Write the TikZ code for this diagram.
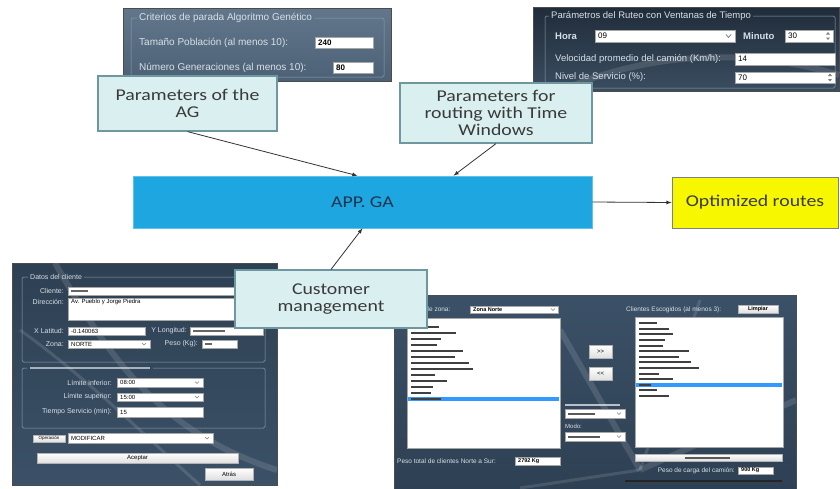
\documentclass[tikz,border=0pt]{standalone}
\usepackage{fontspec}
\setmainfont{Carlito}
\newfontfamily\boxfont[FakeStretch=1.2]{Carlito}
\newfontfamily\uifont{Liberation Sans}
\definecolor{calloutfill}{HTML}{DAEFEF}
\definecolor{calloutline}{HTML}{6E97A0}
\definecolor{labeltext}{HTML}{3A3A3A}
\definecolor{appblue}{HTML}{1DA6DF}
\definecolor{apptext}{HTML}{1E3550}
\definecolor{outyellow}{HTML}{F7F700}
\definecolor{arrowgray}{HTML}{333333}
\definecolor{ptop}{HTML}{62778B}
\definecolor{pbot}{HTML}{4C6176}
\definecolor{qtop}{HTML}{202C3A}
\definecolor{qbot}{HTML}{3A4D60}
\definecolor{rtop}{HTML}{2E4053}
\definecolor{rbot}{HTML}{3B5167}
\definecolor{uitext}{HTML}{D8E0E8}
\definecolor{selblue}{HTML}{3399FF}

\begin{document}
\begin{tikzpicture}[x=1pt,y=-1pt]
  \tikzstyle{callout}=[draw=calloutline,fill=calloutfill,line width=1.2pt,text=labeltext,font=\boxfont\fontsize{16.5}{17}\selectfont,align=center,inner sep=0pt]
  \tikzstyle{appbox}=[fill=appblue,draw=appblue!70!white,line width=0.6pt,text=apptext,font=\boxfont\fontsize{16.5}{18}\selectfont,minimum width=459pt,minimum height=52pt]
  \tikzstyle{outbox}=[fill=outyellow,draw=gray,line width=0.8pt,text=labeltext,font=\boxfont\fontsize{16.5}{18}\selectfont,minimum width=166pt,minimum height=51pt]
  \tikzstyle{link}=[->,>=latex,draw=arrowgray,line width=0.8pt]
  \tikzstyle{winpanel}=[draw=black!70,line width=1pt]
  \tikzstyle{grp}=[draw=uitext!55!rbot,line width=0.5pt,rounded corners=1.5pt]
  \tikzstyle{field}=[draw=gray!70,fill=white,line width=0.4pt]
  \tikzstyle{btn}=[draw=gray!60,top color=white,bottom color=gray!25,line width=0.4pt]
  \tikzstyle{ui}=[inner sep=0pt,text=uitext,font=\uifont\fontsize{7}{8}\selectfont]
  \tikzstyle{uibig}=[ui,font=\uifont\fontsize{10}{11}\selectfont]
  \tikzstyle{uival}=[inner sep=0pt,text=black,font=\uifont\fontsize{6}{7}\selectfont]
  \tikzstyle{streak}=[white,opacity=0.12,line width=6pt]

  \useasboundingbox (0,0) rectangle (840,488);
  \fill[white] (0,0) rectangle (840,488);

  % genetic algorithm settings
  \draw[winpanel,top color=ptop,bottom color=pbot] (123,8) rectangle (391,81);
  \node[uibig,anchor=west] (T_crit) at (139,18) {Criterios de parada Algoritmo Genético};
  \draw[grp] ([xshift=2pt]T_crit.east) -| (384,77) -| (131,18) -- ([xshift=-2pt]T_crit.west);
  \node[uibig,anchor=west] at (139,43) {Tamaño Población (al menos 10):};
  \draw[field] (315,37) rectangle (373,48);
  \node[uival,anchor=west,font=\uifont\bfseries\fontsize{8}{9}\selectfont] at (318,42.5) {240};
  \node[uibig,anchor=west] at (139,68) {Número Generaciones (al menos 10):};
  \draw[field] (333,62) rectangle (373,73);
  \node[uival,anchor=west,font=\uifont\bfseries\fontsize{8}{9}\selectfont] at (336,67.5) {80};

  % routing settings
  \draw[winpanel,top color=qtop,bottom color=qbot] (533,7) rectangle (839,91);
  \draw[streak] (560,91) .. controls (640,55) and (740,45) .. (839,75);
  \node[uibig,anchor=west,font=\uifont\fontsize{9.5}{11}\selectfont] (T_ruteo) at (551,16) {Parámetros del Ruteo con Ventanas de Tiempo};
  \draw[grp] ([xshift=2pt]T_ruteo.east) -| (835,88) -| (545,16) -- ([xshift=-2pt]T_ruteo.west);
  \node[uibig,anchor=west,font=\uifont\bfseries\fontsize{9.5}{11}\selectfont] at (555,36) {Hora};
  \draw[field] (595,30) rectangle (735,42);
  \node[uival,anchor=west,font=\uifont\fontsize{8}{9}\selectfont] at (598,36) {09};
  \draw[gray,line width=0.8pt] (726,34.5) -- (728.5,37.5) -- (731,34.5);
  \node[uibig,anchor=west,font=\uifont\bfseries\fontsize{9.5}{11}\selectfont] at (743,36) {Minuto};
  \draw[field] (785,30) rectangle (833,42);
  \node[uival,anchor=west,font=\uifont\fontsize{8}{9}\selectfont] at (788,36) {30};
  \fill[gray] (826,34.5) -- (830,34.5) -- (828,32) -- cycle (826,37.5) -- (830,37.5) -- (828,40) -- cycle;
  \node[uibig,anchor=west,font=\uifont\fontsize{9.5}{11}\selectfont] at (555,59) {Velocidad promedio del camión (Km/h):};
  \draw[field] (735,53) rectangle (835,65);
  \node[uival,anchor=west,font=\uifont\fontsize{8}{9}\selectfont] at (738,59) {14};
  \node[uibig,anchor=west,font=\uifont\fontsize{9.5}{11}\selectfont] at (555,77.5) {Nivel de Servicio (\%):};
  \draw[field] (735,72) rectangle (835,83);
  \node[uival,anchor=west,font=\uifont\fontsize{8}{9}\selectfont] at (738,77.5) {70};
  \fill[gray] (828,76) -- (832,76) -- (830,73.5) -- cycle (828,79) -- (832,79) -- (830,81.5) -- cycle;

  % customer form
  \draw[winpanel,top color=rtop,bottom color=rbot] (12,263) rectangle (277,485);
  \begin{scope}
    \clip (12,263) rectangle (277,485);
    \draw[streak] (55,263) .. controls (100,340) and (150,430) .. (277,470);
    \draw[streak,line width=3pt] (20,330) .. controls (90,380) and (160,450) .. (200,485);
  \end{scope}
  \node[ui,anchor=west] (T_datos) at (30,277) {Datos del cliente};
  \draw[grp] ([xshift=2pt]T_datos.east) -| (265,362) -| (22,277) -- ([xshift=-2pt]T_datos.west);
  \node[ui,anchor=east] at (64,291) {Cliente:};
  \draw[field] (68,287) rectangle (258,295);
  \fill[black!60] (71,290) rectangle (88,292.2);
  \node[ui,anchor=east] at (64,302) {Dirección:};
  \draw[field] (68,298) rectangle (258,320);
  \node[uival,anchor=west] at (71,302) {Av. Pueblo y Jorge Piedra};
  \node[ui,anchor=east] at (64,331) {X Latitud:};
  \draw[field] (68,327) rectangle (145,335);
  \node[uival,anchor=west] at (71,331) {-0.140063};
  \node[ui,anchor=east] at (187,331) {Y Longitud:};
  \draw[field] (190,327) rectangle (263,335);
  \fill[black!60] (193,330) rectangle (225,332.2);
  \node[ui,anchor=east] at (64,344) {Zona:};
  \draw[field] (68,340) rectangle (150,348);
  \node[uival,anchor=west] at (71,344) {NORTE};
  \draw[gray] (142,343) -- (144,345) -- (146,343);
  \node[ui,anchor=east] at (198,344) {Peso (Kg):};
  \draw[field] (202,340) rectangle (237,348);
  \fill[black!60] (205,343) rectangle (212,345.2);
  \fill[uitext,opacity=0.7] (30,367) rectangle (150,369.4);
  \draw[grp] (153,368) -| (265,428) -| (22,368) -- (27,368);
  \node[ui,anchor=east] at (112,382.5) {Límite inferior:};
  \draw[field] (117,378) rectangle (203,387);
  \node[uival,anchor=west] at (120,382.5) {08:00};
  \draw[gray] (195,381.5) -- (197,383.5) -- (199,381.5);
  \node[ui,anchor=east] at (112,397) {Límite superior:};
  \draw[field] (117,393) rectangle (203,401);
  \node[uival,anchor=west] at (120,397) {15:00};
  \draw[gray] (195,396) -- (197,398) -- (199,396);
  \node[ui,anchor=east] at (112,412) {Tiempo Servicio (min):};
  \draw[field] (117,407) rectangle (203,417);
  \node[uival,anchor=west] at (120,412) {15};
  \draw[btn] (33,435) rectangle (65,442);
  \node[uival,font=\uifont\fontsize{4.5}{5}\selectfont] at (49,438.5) {Operación};
  \draw[field] (68,433) rectangle (213,443);
  \node[uival,anchor=west] at (71,438) {MODIFICAR};
  \draw[gray] (205,437) -- (207,439) -- (209,437);
  \draw[btn] (37,453) rectangle (238,463);
  \node[uival] at (137.5,458) {Aceptar};
  \draw[btn] (205,468) rectangle (253,480);
  \node[uival] at (229,474) {Atrás};

  % customer selection
  \draw[winpanel,top color=rbot,bottom color=rtop] (394,295) rectangle (796,492);
  \begin{scope}
    \clip (394,295) rectangle (796,488);
    \draw[streak] (640,470) -- (560,330);
    \draw[streak] (640,470) -- (796,400);
    \draw[streak,line width=3pt] (640,470) -- (520,488);
    \draw[streak,line width=3pt] (640,470) -- (700,300);
  \end{scope}
  \node[ui,anchor=west,font=\uifont\fontsize{6.5}{7}\selectfont] at (400,309.5) {Clientes de zona:};
  \draw[field] (470,306) rectangle (558,313);
  \node[uival,anchor=west,font=\uifont\bfseries\fontsize{5.5}{6}\selectfont] at (473,309.5) {Zona Norte};
  \draw[gray] (551,308.5) -- (553,310.5) -- (555,308.5);
  \draw[field] (407,318) rectangle (560,448);
  \fill[selblue] (408,396.5) rectangle (559,401);
  \foreach \w [count=\i] in {28,45,30,26,52,44,58,62,24,36,22,20,30}
    \fill[black!75] (411,319.5+6*\i) rectangle ++(\w,2);
  \draw[btn] (589,345) rectangle (612,358);
  \node[uival] at (600.5,351.5) {>>};
  \draw[btn] (589,367) rectangle (612,380);
  \node[uival] at (600.5,373.5) {<<};
  \fill[uitext,opacity=0.8] (565,404) rectangle (620,406);
  \draw[field] (565,409) rectangle (625,418);
  \fill[black!65] (568,412.5) rectangle (595,414.5);
  \draw[gray] (617,412.5) -- (619,414.5) -- (621,412.5);
  \node[ui,anchor=west,font=\uifont\fontsize{6}{7}\selectfont] at (565,426) {Modo:};
  \draw[field] (565,432) rectangle (625,441);
  \fill[black!65] (568,435.5) rectangle (600,437.5);
  \draw[gray] (617,435.5) -- (619,437.5) -- (621,435.5);
  \node[ui,anchor=west,font=\uifont\fontsize{6.5}{7}\selectfont] at (626,309.5) {Clientes Escogidos (al menos 3):};
  \draw[btn] (738,305) rectangle (778,313);
  \node[uival,font=\uifont\bfseries\fontsize{5.5}{6}\selectfont] at (758,309) {Limpiar};
  \draw[field] (635,317) rectangle (783,447);
  \fill[selblue] (636,383) rectangle (782,387);
  \foreach \w [count=\i] in {18,30,34,26,24,50,40,52,60,20,34,12,18,30}
    \fill[black!75] (639,316.5+5.6*\i) rectangle ++(\w,2);
  \node[ui,anchor=west,font=\uifont\fontsize{6.5}{7}\selectfont] at (397,461) {Peso total de clientes Norte a Sur:};
  \draw[field] (515,457) rectangle (560,465);
  \node[uival,anchor=west,font=\uifont\bfseries\fontsize{5.5}{6}\selectfont] at (518,461) {2792 Kg};
  \draw[btn] (635,454) rectangle (782,461);
  \fill[black!65] (685,456.5) rectangle (730,458.5);
  \node[ui,anchor=east,font=\uifont\fontsize{6.5}{7}\selectfont] at (735,470.5) {Peso de carga del camión:};
  \draw[field] (738,467) rectangle (773,474);
  \node[uival,anchor=west,font=\uifont\bfseries\fontsize{5.5}{6}\selectfont] at (741,470.5) {900 Kg};
  \fill[black!85] (625,479.5) rectangle (782,481.5);

  \node[callout,minimum width=179pt,minimum height=55pt] (B_ag) at (187.5,103.5) {Parameters of the\\AG};
  \node[callout,minimum width=192pt,minimum height=60pt] (B_route) at (496,113) {Parameters for\\routing with Time\\Windows};
  \node[appbox] (B_app) at (362.5,202) {APP. GA};
  \node[outbox] (B_out) at (755,202.5) {Optimized routes};
  \node[callout,minimum width=192pt,minimum height=58pt] (B_cust) at (331,299) {Customer\\management};

  \draw[link] (B_ag.south) -- ([xshift=-5pt]B_app.north);
  \draw[link] (B_route.south) -- ([xshift=91pt]B_app.north);
  \draw[link] (B_cust.north) -- (B_app.south);
  \draw[link] (B_app.east) -- (B_out.west);
\end{tikzpicture}
\end{document}
